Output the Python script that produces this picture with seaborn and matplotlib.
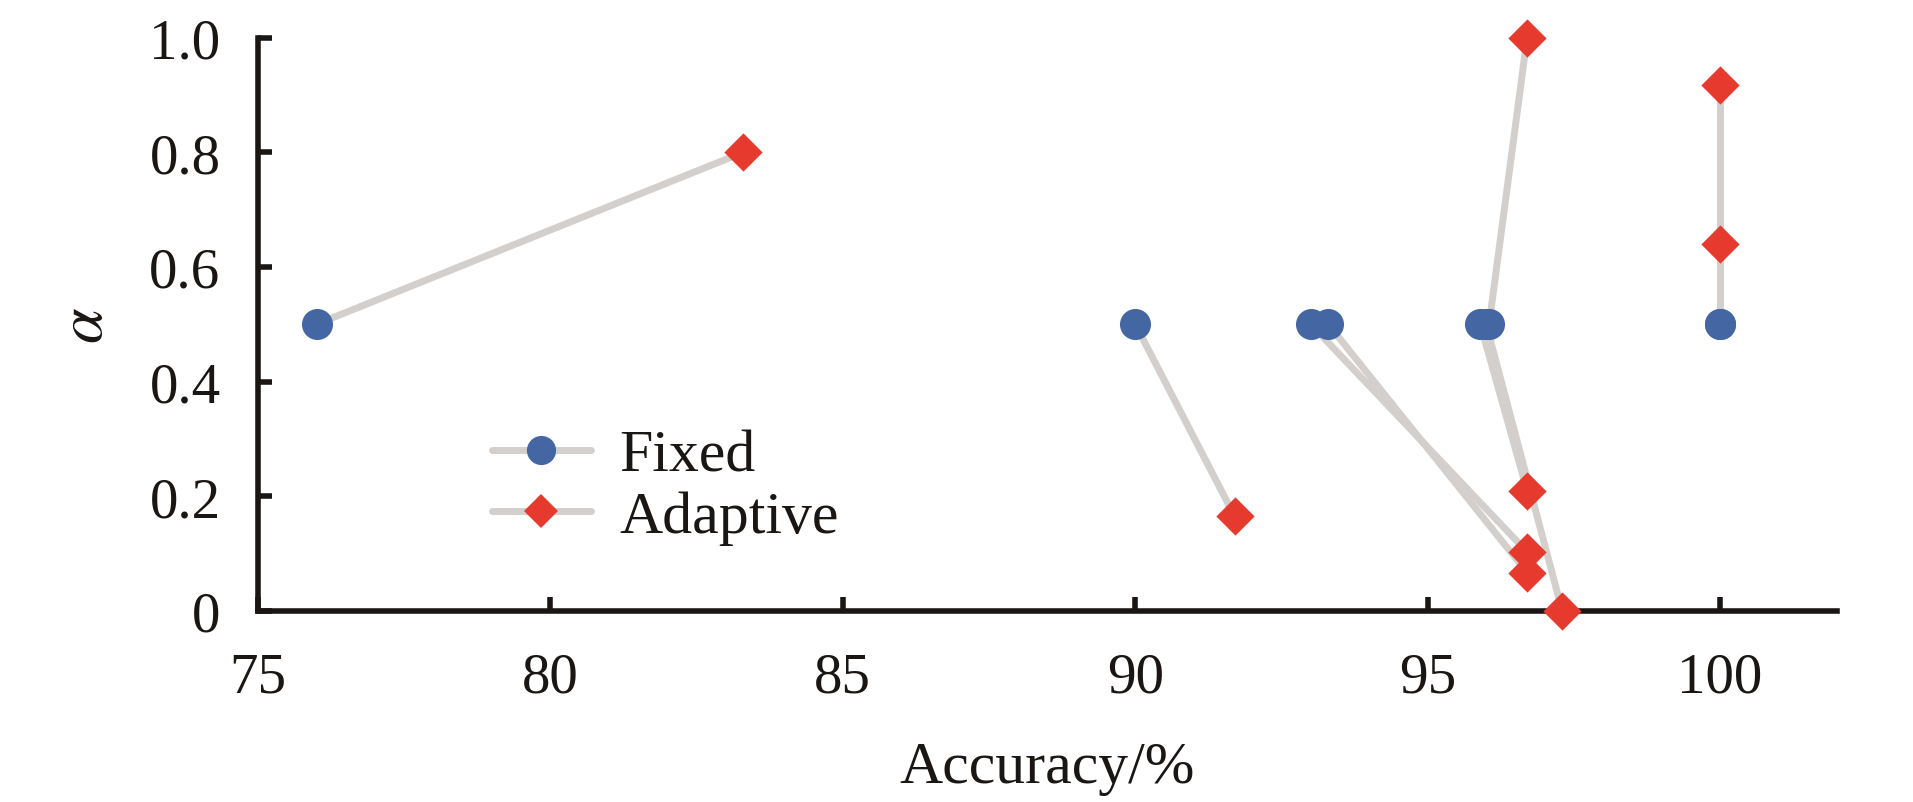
import matplotlib
matplotlib.use("Agg")
import matplotlib.pyplot as plt
from matplotlib.lines import Line2D
import pandas as pd
import seaborn as sns

# each fixed-alpha run is joined to its adaptive-alpha counterpart
fixed_acc = [76.0, 90.0, 93.0, 93.3, 96.05, 95.9, 96.0, 100.0, 100.0]
fixed_alpha = [0.5, 0.5, 0.5, 0.5, 0.5, 0.5, 0.5, 0.5, 0.5]
adaptive_acc = [83.3, 91.7, 96.7, 96.7, 96.7, 96.7, 97.3, 100.0, 100.0]
adaptive_alpha = [0.80, 0.165, 0.103, 0.067, 1.0, 0.21, 0.0, 0.64, 0.917]

x_ticks = [75, 80, 85, 90, 95, 100]
y_ticks = [0, 0.2, 0.4, 0.6, 0.8, 1.0]
y_tick_labels = ["0", "0.2", "0.4", "0.6", "0.8", "1.0"]

blue = "#4466a3"
red = "#e63a2e"
gray = "#d3cfcc"
ink = "#1a1613"

fixed_df = pd.DataFrame({"acc": fixed_acc, "alpha": fixed_alpha,
                         "pair": range(len(fixed_acc)), "method": "Fixed"})
adaptive_df = pd.DataFrame({"acc": adaptive_acc, "alpha": adaptive_alpha,
                            "pair": range(len(adaptive_acc)), "method": "Adaptive"})
df = pd.concat([fixed_df, adaptive_df], ignore_index=True)

sns.set_style("ticks")
plt.rcParams["font.family"] = ["Liberation Serif", "DejaVu Serif"]
plt.rcParams["mathtext.fontset"] = "stix"

fig, ax = plt.subplots(figsize=(19.13, 8.03), dpi=100)
fig.subplots_adjust(left=0.1349, right=0.9603, bottom=0.2379, top=0.952)

sns.lineplot(data=df, x="acc", y="alpha", units="pair", estimator=None,
             sort=False, color=gray, lw=5, ax=ax, legend=False, zorder=2)
sns.scatterplot(data=fixed_df, x="acc", y="alpha", marker="o", s=500,
                color=blue, linewidth=0, ax=ax, clip_on=False, zorder=4)
sns.scatterplot(data=adaptive_df, x="acc", y="alpha", marker="D", s=380,
                color=red, linewidth=0, ax=ax, clip_on=False, zorder=5)

ax.set_xlim(75, 102)
ax.set_ylim(0, 1.0)
ax.set_xticks(x_ticks)
ax.set_yticks(y_ticks)
ax.set_yticklabels(y_tick_labels)
ax.tick_params(direction="in", length=10, width=4, color=ink,
               labelsize=41, labelcolor=ink)
ax.tick_params(axis="x", pad=29)
ax.tick_params(axis="y", pad=27)
sns.despine(ax=ax)
for side in ["left", "bottom"]:
    ax.spines[side].set_linewidth(4)
    ax.spines[side].set_color(ink)

ax.set_xlabel("Accuracy/%", fontsize=43, color=ink, labelpad=27)
ax.set_ylabel(r"$\alpha$", fontsize=46, color=ink, labelpad=24)

handles = [
    Line2D([], [], color=gray, lw=5, marker="o", ms=21, mfc=blue, mec=blue, mew=0),
    Line2D([], [], color=gray, lw=5, marker="D", ms=17.5, mfc=red, mec=red, mew=0),
]
ax.legend(handles, ["Fixed", "Adaptive"], loc="upper left",
          bbox_to_anchor=(0.148, 0.317), frameon=False, fontsize=43,
          handlelength=1.66, handletextpad=0.48, labelspacing=0.1,
          borderpad=0, borderaxespad=0, labelcolor=ink)

fig.savefig("out.png", dpi=100)
